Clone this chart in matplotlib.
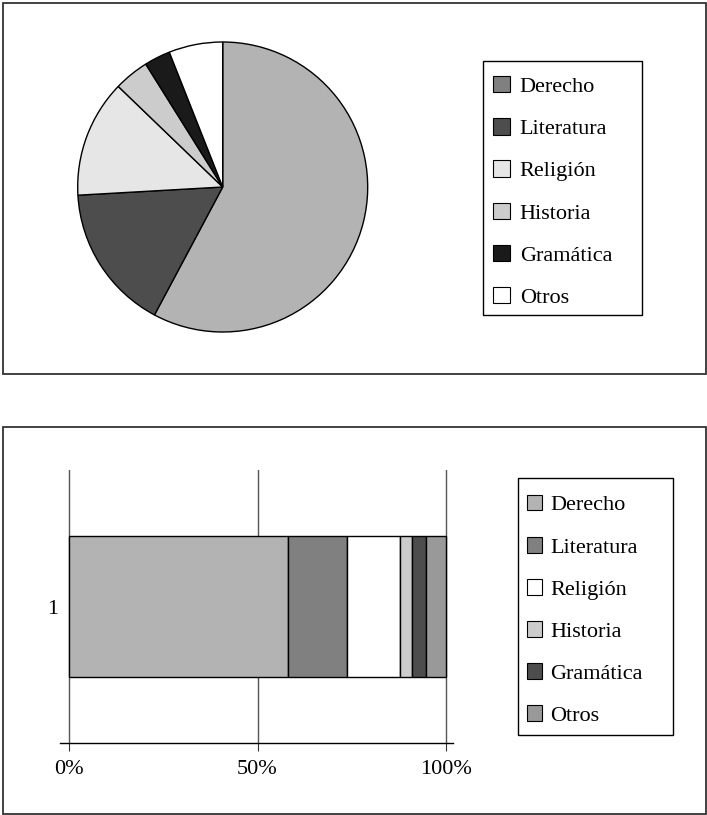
import matplotlib
matplotlib.use("Agg")
import matplotlib.pyplot as plt
from matplotlib.patches import Rectangle, Patch

plt.rcParams['font.family'] = ['Liberation Serif', 'DejaVu Serif']

# ---- data ----
categories = ["Derecho", "Literatura", "Religión", "Historia", "Gramática", "Otros"]
pie_values = [57.8, 16.3, 13.1, 3.9, 2.9, 6.0]          # percent, top pie chart
bar_values = [58.0, 15.8, 14.1, 3.2, 3.6, 5.3]          # percent, bottom stacked bar
bar_label = ["1"]
x_ticks = [0, 50, 100]
x_tick_labels = ["0%", "50%", "100%"]

# ---- styles ----
pie_colors = ["#b3b3b3", "#4d4d4d", "#e6e6e6", "#cccccc", "#1a1a1a", "#ffffff"]
pie_legend_colors = ["#808080", "#4d4d4d", "#e6e6e6", "#cccccc", "#1a1a1a", "#ffffff"]
bar_colors = ["#b3b3b3", "#808080", "#ffffff", "#cccccc", "#4d4d4d", "#999999"]

W, H = 707, 815
FS = 16
fig = plt.figure(figsize=(W / 100, H / 100), dpi=100)


def box(x0, y0, x1, y1):
    return (x0 / W, 1 - y1 / H, (x1 - x0) / W, (y1 - y0) / H)


def frame(x0, y0, x1, y1, color, lw):
    l, b, w, h = box(x0, y0, x1, y1)
    fig.patches.append(Rectangle((l, b), w, h, transform=fig.transFigure,
                                 fill=False, edgecolor=color, linewidth=lw, zorder=5))


# panel frames
frame(3, 3, 706, 374, "#333333", 1.3)
frame(3, 427, 706, 814, "#333333", 1.3)

# ---- pie ----
cx, cy, r = 222.7, 187, 145
ax1 = fig.add_axes(box(cx - r, cy - r, cx + r, cy + r))
ax1.pie(pie_values, colors=pie_colors, startangle=90, counterclock=False,
        wedgeprops=dict(edgecolor="black", linewidth=1.0))
ax1.set_xlim(-1, 1)
ax1.set_ylim(-1, 1)
ax1.set_axis_off()

frame(483, 61, 642, 315, "black", 1.0)
handles1 = [Patch(facecolor=c, edgecolor="black", linewidth=0.8) for c in pie_legend_colors]
leg1 = fig.legend(handles1, categories, loc="upper left",
                  bbox_to_anchor=(483 / W, 1 - 66 / H),
                  borderaxespad=0, fontsize=FS, frameon=False, borderpad=0.45,
                  labelspacing=0.96, handlelength=0.75, handleheight=0.75,
                  handletextpad=0.45)

# ---- stacked bar ----
ax2 = fig.add_axes(box(60, 470, 453, 743))
left = 0
for v, c, name in zip(bar_values, bar_colors, categories):
    ax2.barh(bar_label, [v], left=left, height=0.52, color=c,
             edgecolor="black", linewidth=1.0, label=name, zorder=3)
    left += v
ax2.set_xlim(-9 / 377 * 100, 100 + 7 / 377 * 100)
ax2.set_ylim(-0.5, 0.5)
ax2.set_xticks(x_ticks)
ax2.set_xticklabels(x_tick_labels)
ax2.grid(axis="x", color="#555555", linewidth=1.0, zorder=1)
ax2.set_axisbelow(True)
for s in ["left", "right", "top"]:
    ax2.spines[s].set_visible(False)
ax2.spines["bottom"].set_color("black")
ax2.spines["bottom"].set_linewidth(1.0)
ax2.tick_params(axis="x", direction="out", length=6, width=0.8, color="#333333",
                labelsize=FS, pad=6)
ax2.tick_params(axis="y", length=0, labelsize=FS, pad=1)
ax2.patch.set_alpha(0)

frame(518, 478, 673, 735, "black", 1.0)
handles2 = [Patch(facecolor=c, edgecolor="black", linewidth=0.8) for c in bar_colors]
leg2 = fig.legend(handles2, categories, loc="upper left",
                  bbox_to_anchor=(518 / W, 1 - 486 / H),
                  borderaxespad=0, fontsize=FS, frameon=False, borderpad=0.4,
                  labelspacing=0.97, handlelength=0.7, handleheight=0.7,
                  handletextpad=0.35)

fig.savefig("out.png", dpi=100, facecolor="white")
